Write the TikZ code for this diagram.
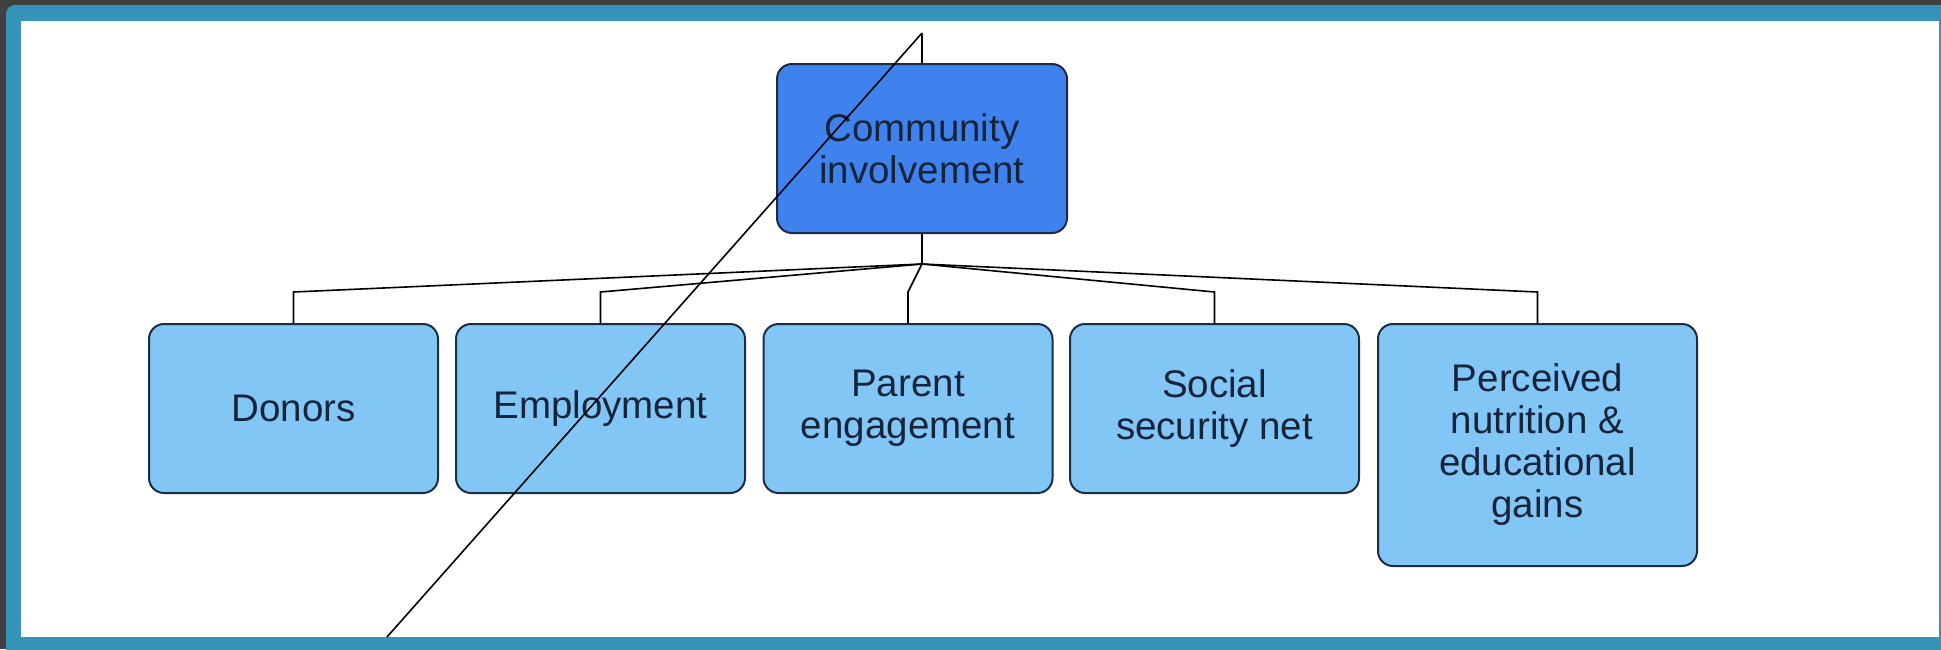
\documentclass[tikz,border=0pt]{standalone}
\usepackage{fontspec}
\setmainfont{Liberation Sans}

\definecolor{darkbg}{HTML}{404040}
\definecolor{frameblue}{HTML}{3594BA}
\definecolor{headfill}{HTML}{3F82EE}
\definecolor{leaffill}{HTML}{82C6F6}
\definecolor{boxline}{HTML}{1C2C44}
\definecolor{boxtext}{HTML}{15243A}

\tikzset{
  box/.style={draw=boxline, line width=2pt, rounded corners=15pt,
    inner sep=0pt, align=center, text=boxtext,
    font=\fontsize{38.5}{42}\selectfont},
  headbox/.style={box, fill=headfill, minimum width=290pt, minimum height=169pt},
  leafbox/.style={box, fill=leaffill, minimum width=289pt, minimum height=169pt},
  link/.style={line width=1.6pt, black}
}

\begin{document}
\begin{tikzpicture}[x=1pt,y=-1pt]
  \useasboundingbox (0,0) rectangle (1941,649);
  \clip (0,0) rectangle (1941,649);

  % window frame
  \fill[darkbg] (0,0) rectangle (1941,649);
  \fill[frameblue, rounded corners=9pt] (6,5) rectangle (1970,680);
  \fill[white] (21,21) rectangle (1939,637);

  % boxes
  \node[headbox] (community) at (922,148.5) {Community\\involvement};
  \node[leafbox] (donors)     at (293.5,408.5) {Donors};
  \node[leafbox] (employment) at (600.5,408.5) {Employment};
  \node[leafbox] (parent)     at (908,408.5)   {Parent\\engagement};
  \node[leafbox] (social)     at (1214.5,408.5) {Social\\security net};
  \node[leafbox, minimum width=319pt, minimum height=242pt]
    (perceived) at (1537.5,445) {Perceived\\nutrition \&\\educational\\gains};

  % tree connectors
  \coordinate (fork) at (922,264);
  \draw[link] (community.south) -- (fork);
  \foreach \n in {donors,employment,parent,social,perceived}
    \draw[link] (fork) -- (\n.north |- 0,292) -- (\n.north);

  % stray stroke across the page
  \coordinate (apex) at (922,33);
  \coordinate (tail) at (387,637);
  \draw[link] (apex) -- (community.north);
  \draw[link] (apex) -- (tail);
\end{tikzpicture}
\end{document}
